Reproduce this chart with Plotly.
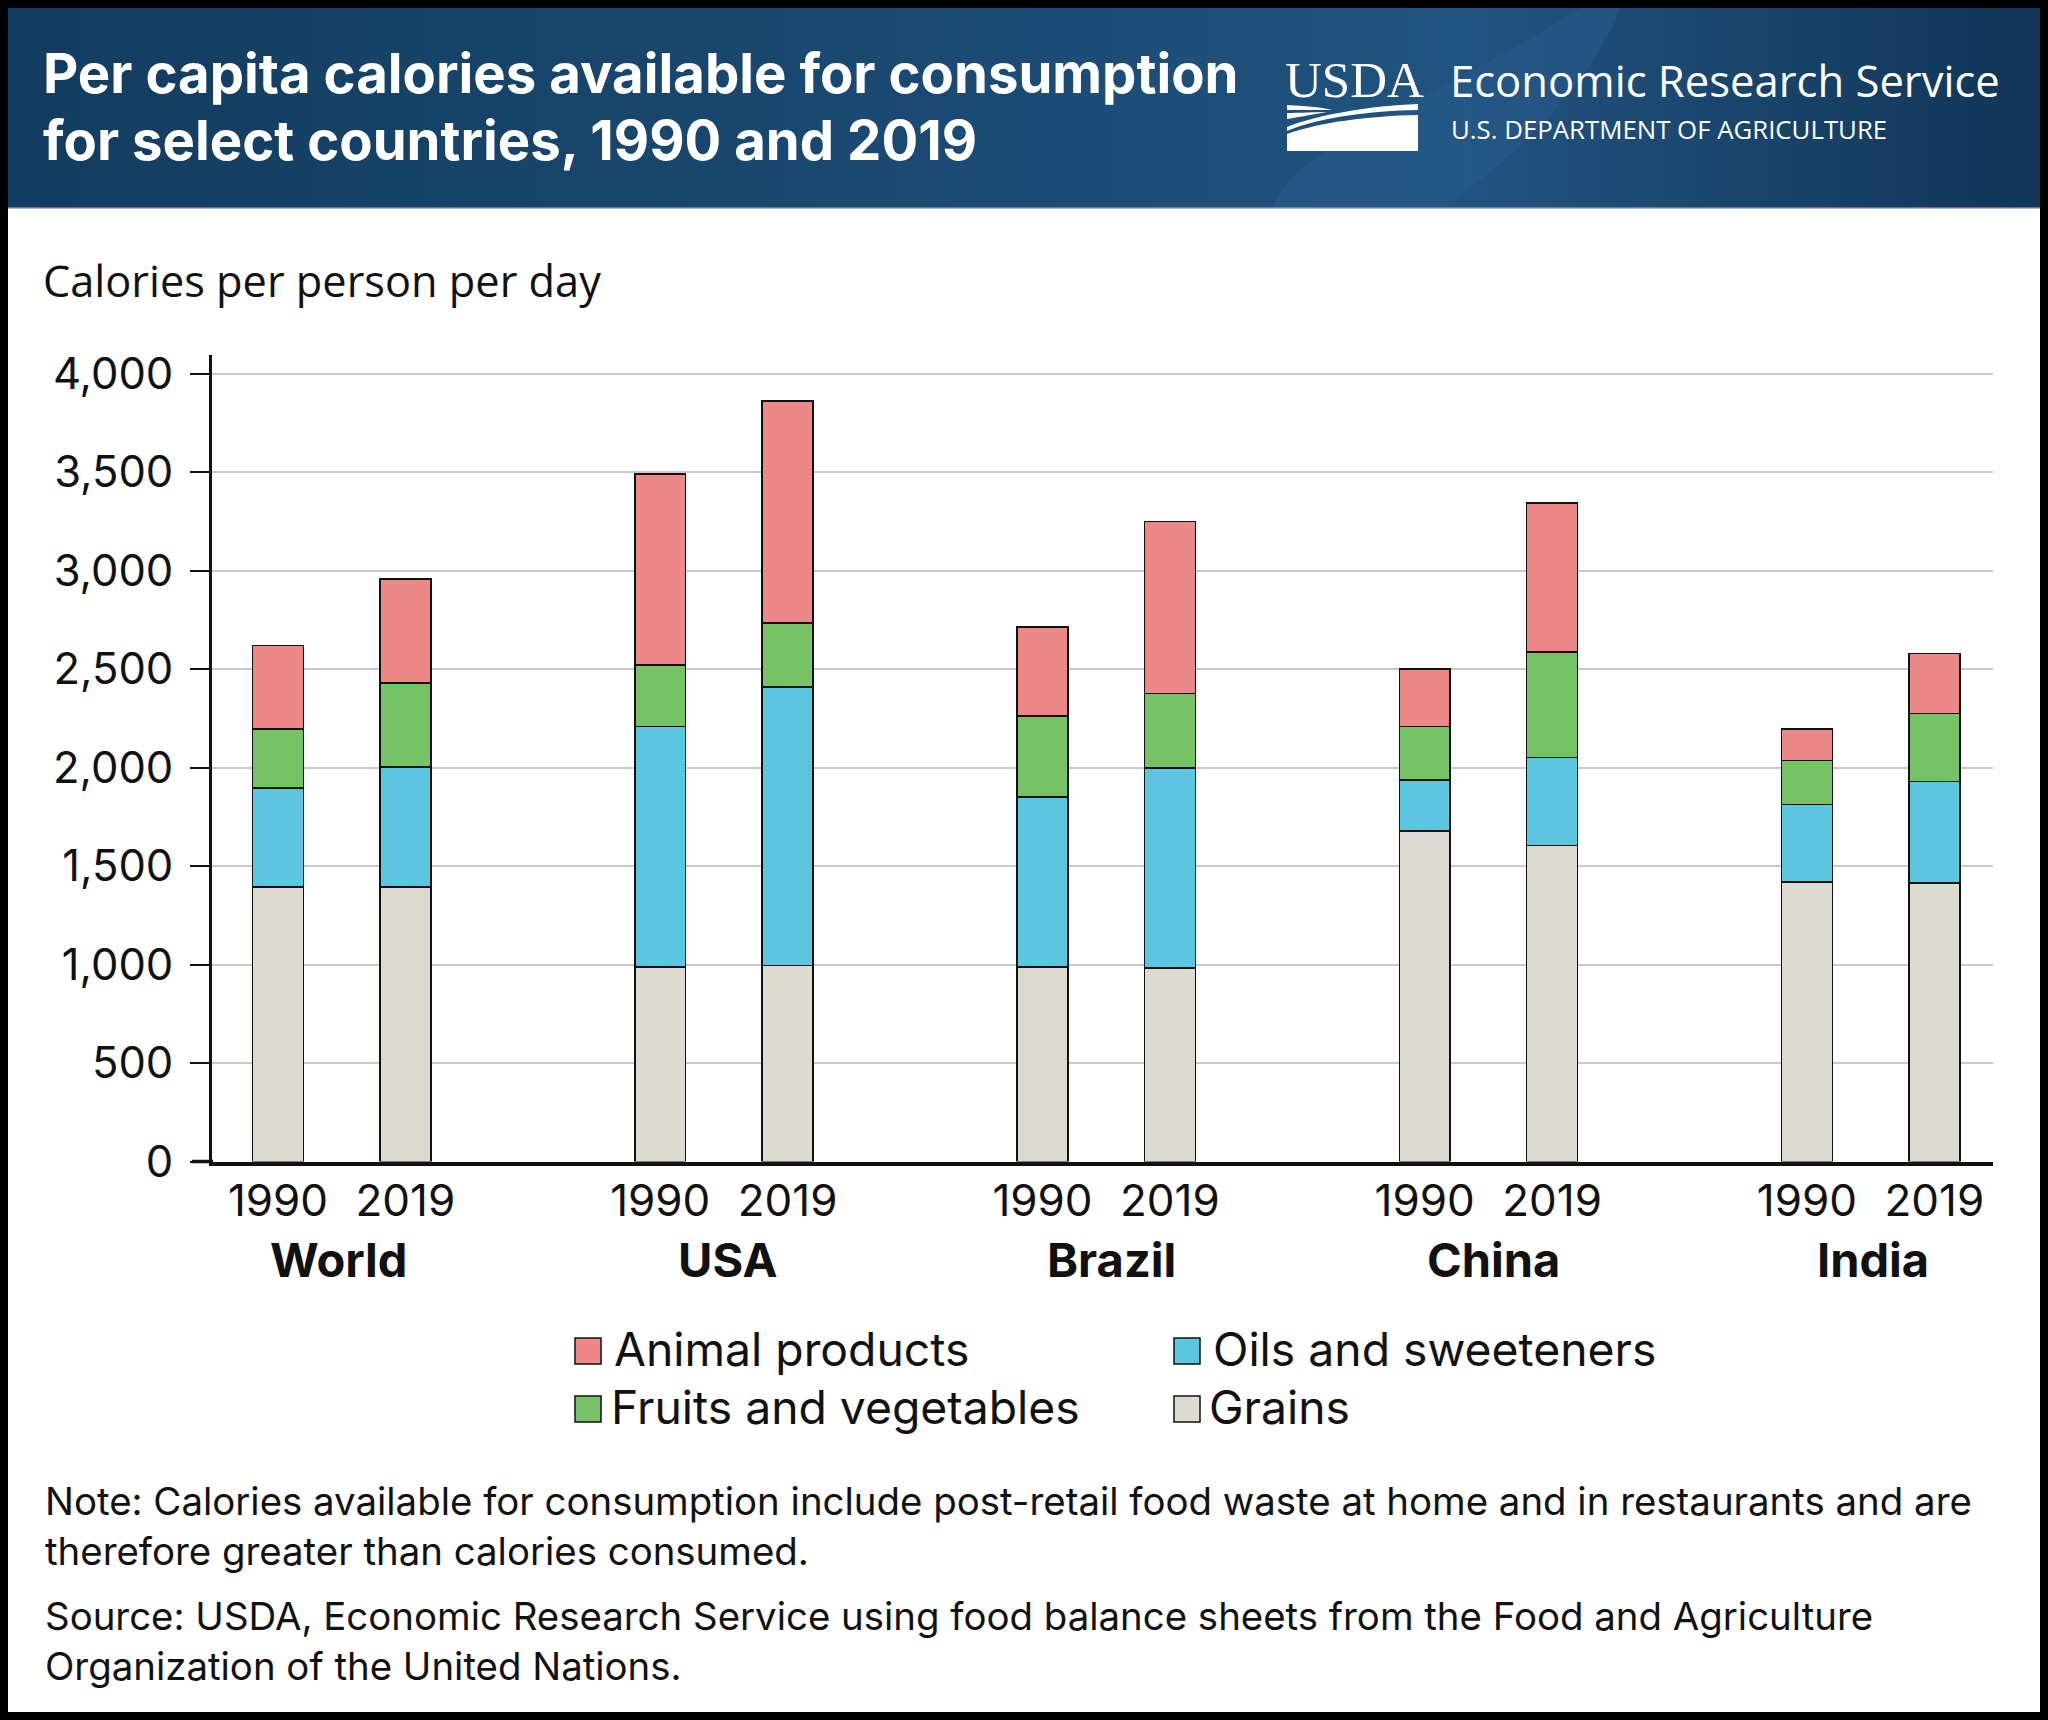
import base64
import plotly.graph_objects as go

W = 2048
H = 1720

countries = ["World", "USA", "Brazil", "China", "India"]
title_lines = ["Per capita calories available for consumption", "for select countries, 1990 and 2019"]
note_lines = [
    "Note: Calories available for consumption include post-retail food waste at home and in restaurants and are",
    "therefore greater than calories consumed.",
    "Source: USDA, Economic Research Service using food balance sheets from the Food and Agriculture",
    "Organization of the United Nations.",
]

# calories per person per day, one value per bar, None in the spacer slot between countries
grains = [1393, 1393, None, 988, 995, None, 988, 982, None, 1678, 1605, None, 1420, 1413]
oils = [504, 610, None, 1221, 1413, None, 863, 1015, None, 259, 445, None, 391, 517]
fruits = [299, 425, None, 312, 325, None, 411, 378, None, 272, 537, None, 225, 345]
animal = [424, 530, None, 968, 1128, None, 451, 875, None, 292, 756, None, 160, 305]

slots = ["World 1990", "World 2019", "gap1", "USA 1990", "USA 2019", "gap2", "Brazil 1990", "Brazil 2019", "gap3",
         "China 1990", "China 2019", "gap4", "India 1990", "India 2019"]
year_slots = [s for s in slots if not s.startswith("gap")]
year_labels = [s.split(" ")[1] for s in year_slots]

GRAINS_COL = "#dddbd0"
OILS_COL = "#5cc5e0"
FRUITS_COL = "#75c364"
ANIMAL_COL = "#ec8888"

SANS = "Inter"
HUMANIST = "Open Sans"


def px(x):
    return x / W


def py(y):
    return 1 - y / H


def label(x, y, text, size, color="#111111", family=SANS, weight=400, xanchor="left"):
    return dict(x=px(x), y=py(y), xref="paper", yref="paper", text=text, showarrow=False, xanchor=xanchor,
                yanchor="middle", align="left", font=dict(family=family, size=size, color=color, weight=weight))


# banner background and the USDA flag mark, drawn in page pixels
banner_svg = """<svg xmlns="http://www.w3.org/2000/svg" viewBox="8 8 2032 201" preserveAspectRatio="none">
<defs><linearGradient id="g" x1="0" y1="0" x2="1" y2="0">
<stop offset="0" stop-color="#123c5f"/><stop offset="0.45" stop-color="#1a4a72"/>
<stop offset="0.72" stop-color="#215380"/><stop offset="1" stop-color="#103556"/>
</linearGradient></defs>
<rect x="8" y="8" width="2032" height="201" fill="url(#g)"/>
<path d="M1272 209 C1300 140 1420 110 1580 8 L1620 8 C1590 90 1500 170 1440 209 Z" fill="#28598a" opacity="0.55"/>
<rect x="8" y="207.5" width="2032" height="1.5" fill="#a9bccc"/>
<path d="M1287 151 L1287 134 C1320 122 1370 116 1418 115 L1418 151 Z" fill="#fff"/>
<path d="M1287 127 C1320 114 1370 106 1418 104 L1418 110 C1370 111 1320 117 1287 131 Z" fill="#fff"/>
<path d="M1287 105 C1305 106 1320 107 1332 110 C1318 110 1302 110 1287 110 Z" fill="#fff"/>
<path d="M1287 113 C1300 113 1315 112 1327 112 C1315 114 1300 117 1287 119 Z" fill="#fff"/>
</svg>"""
banner_src = "data:image/svg+xml;base64," + base64.b64encode(banner_svg.encode()).decode()

fig = go.Figure()
for name, values, color in [("Grains", grains, GRAINS_COL), ("Oils and sweeteners", oils, OILS_COL),
                            ("Fruits and vegetables", fruits, FRUITS_COL), ("Animal products", animal, ANIMAL_COL)]:
    fig.add_trace(go.Bar(x=slots, y=values, name=name, marker=dict(color=color, line=dict(color="#111111", width=1.5))))

annotations = [
    label(41, 73, title_lines[0], 54.5, "#ffffff", weight=700),
    label(41, 140, title_lines[1], 54.5, "#ffffff", weight=700),
    label(1283, 80, "USDA", 51, "#ffffff", family="Liberation Serif"),
    label(1448, 80, "Economic Research Service", 43.6, "#ffffff", family=HUMANIST),
    label(1449, 129, "U.S. DEPARTMENT OF AGRICULTURE", 25.8, "#ffffff", family=HUMANIST),
    label(41, 280, "Calories per person per day", 43.3, family=HUMANIST),
    label(612, 1348.5, "Animal products", 46.3),
    label(609, 1407, "Fruits and vegetables", 46.3),
    label(1211, 1348.5, "Oils and sweeteners", 46.3),
    label(1207, 1407, "Grains", 46.3),
    label(42.5, 1500.5, note_lines[0], 38.4),
    label(42.5, 1550.5, note_lines[1], 38.4),
    label(42.5, 1615.5, note_lines[2], 38.4),
    label(42.5, 1665.5, note_lines[3], 38.4),
]
for country, cx in zip(countries, [339, 728, 1111, 1493, 1873]):
    annotations.append(label(cx, 1259, country, 47, weight=700, xanchor="center"))

shapes = [
    dict(type="rect", xref="paper", yref="paper", x0=px(4), x1=px(W - 4), y0=py(4), y1=py(H - 4),
         line=dict(color="#000000", width=8), fillcolor="rgba(0,0,0,0)"),
    dict(type="line", xref="paper", yref="paper", x0=px(192), x1=px(213), y0=py(1161.5), y1=py(1161.5),
         line=dict(color="#111111", width=3.5)),
]
for x0, yc, color in [(575, 1351, ANIMAL_COL), (575, 1409, FRUITS_COL), (1174, 1351, OILS_COL), (1174, 1409, GRAINS_COL)]:
    shapes.append(dict(type="rect", xref="paper", yref="paper", x0=px(x0), x1=px(x0 + 26), y0=py(yc - 13), y1=py(yc + 13),
                       fillcolor=color, line=dict(color="#111111", width=1.5)))

fig.update_layout(
    width=W,
    height=H,
    margin=dict(l=0, r=0, t=0, b=0),
    paper_bgcolor="#ffffff",
    plot_bgcolor="#ffffff",
    barmode="stack",
    bargap=0.6,
    showlegend=False,
    annotations=annotations,
    shapes=shapes,
    images=[dict(source=banner_src, xref="paper", yref="paper", x=px(8), y=py(8), sizex=2032 / W, sizey=201 / H,
                 xanchor="left", yanchor="top", sizing="stretch", layer="below")],
    xaxis=dict(
        automargin=False,
        domain=[px(212), px(1993)],
        type="category",
        categoryorder="array",
        categoryarray=slots,
        range=[-0.518, 13.46],
        tickmode="array",
        tickvals=year_slots,
        ticktext=year_labels,
        ticks="",
        showgrid=False,
        showline=True,
        linecolor="#111111",
        linewidth=3.5,
        ticklabelstandoff=-2,
        tickfont=dict(family=SANS, size=44, color="#111111"),
    ),
    yaxis=dict(
        automargin=False,
        domain=[py(1161.5), py(355)],
        range=[0, 4094],
        tick0=0,
        dtick=500,
        tickformat=",d",
        ticks="outside",
        ticklen=19,
        tickwidth=2,
        tickcolor="#111111",
        showline=True,
        linecolor="#111111",
        linewidth=3,
        showgrid=True,
        gridcolor="#c9c9c9",
        gridwidth=1.5,
        zeroline=False,
        ticklabelstandoff=8,
        tickfont=dict(family=SANS, size=43.5, color="#111111"),
    ),
)

# the default body margin would push the figure off the window
fig.write_html("out.html", post_script="document.body.style.margin = '0';", config={"displayModeBar": False})
